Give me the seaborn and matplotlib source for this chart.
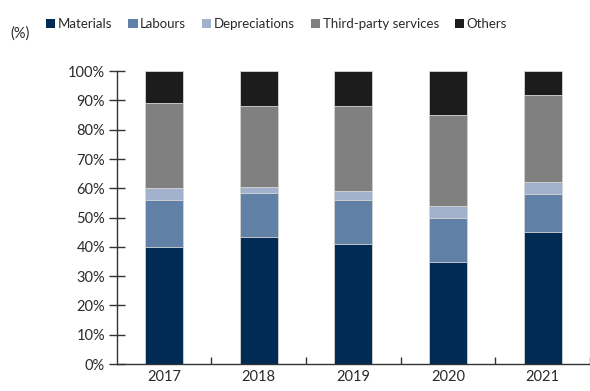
import numpy as np
import pandas as pd
import matplotlib
matplotlib.use("Agg")
import matplotlib.pyplot as plt
from matplotlib.patches import Patch
from matplotlib.ticker import MultipleLocator, FixedLocator
import seaborn as sns

# data (share of cost, %)
years = ["2017", "2018", "2019", "2020", "2021"]
series = ["Materials", "Labours", "Depreciations", "Third-party services", "Others"]
materials = [40.0, 43.5, 41.0, 35.0, 45.0]
labours = [16.0, 15.0, 15.0, 15.0, 13.0]
depreciations = [4.0, 2.0, 3.0, 4.0, 4.0]
third_party = [29.0, 27.7, 29.0, 31.0, 30.0]
others = [11.0, 11.8, 12.0, 15.0, 8.0]

colors = ["#002B55", "#6080A6", "#A2B2CC", "#808080", "#1C1C1C"]

sns.set_style("white")
plt.rcParams["font.family"] = ["Lato", "DejaVu Sans"]

values = np.array([materials, labours, depreciations, third_party, others])
tops = np.cumsum(values, axis=0)

fig, ax = plt.subplots(figsize=(5.9, 3.91), dpi=100)
fig.subplots_adjust(left=0.198, right=1.0, bottom=0.069, top=0.818)

# stacked bars: draw cumulative totals from the top series down
for i in range(len(series) - 1, -1, -1):
    df = pd.DataFrame({"year": years, "value": tops[i]})
    sns.barplot(data=df, x="year", y="value", color=colors[i], width=0.4,
                saturation=1, edgecolor="#d8d8d8", linewidth=0.6, ax=ax)

ax.set_xlim(-0.5, len(years) - 0.5)
ax.set_ylim(0, 100)
ax.yaxis.set_major_locator(MultipleLocator(10))
ax.set_yticklabels([f"{int(v)}%" for v in ax.get_yticks()])
ax.set_xlabel("")
ax.set_ylabel("")

for s in ["top", "right"]:
    ax.spines[s].set_visible(False)
for s in ["left", "bottom"]:
    ax.spines[s].set_color("#333333")
    ax.spines[s].set_linewidth(1.0)

ax.tick_params(axis="y", direction="inout", length=11, width=1, color="#333333",
               labelsize=10.5, labelcolor="#2a2a2a", pad=3, left=True)
ax.tick_params(axis="x", which="major", length=0, labelsize=10.5,
               labelcolor="#2a2a2a", pad=4)
ax.xaxis.set_minor_locator(FixedLocator(np.arange(0.5, len(years), 1.0)))
ax.tick_params(axis="x", which="minor", direction="in", length=5, width=1,
               color="#333333", bottom=True)

handles = [Patch(facecolor=c, edgecolor="none", label=s) for c, s in zip(colors, series)]
fig.legend(handles=handles, loc="upper left", bbox_to_anchor=(0.058, 0.985), ncol=5,
           frameon=False, handlelength=0.7, handleheight=0.7, handletextpad=0.2,
           columnspacing=1.2, fontsize=9.5, labelcolor="#2a2a2a")
fig.text(0.017, 0.913, "(%)", fontsize=10.5, color="#2a2a2a", va="center")

fig.savefig("out.png", dpi=100)
